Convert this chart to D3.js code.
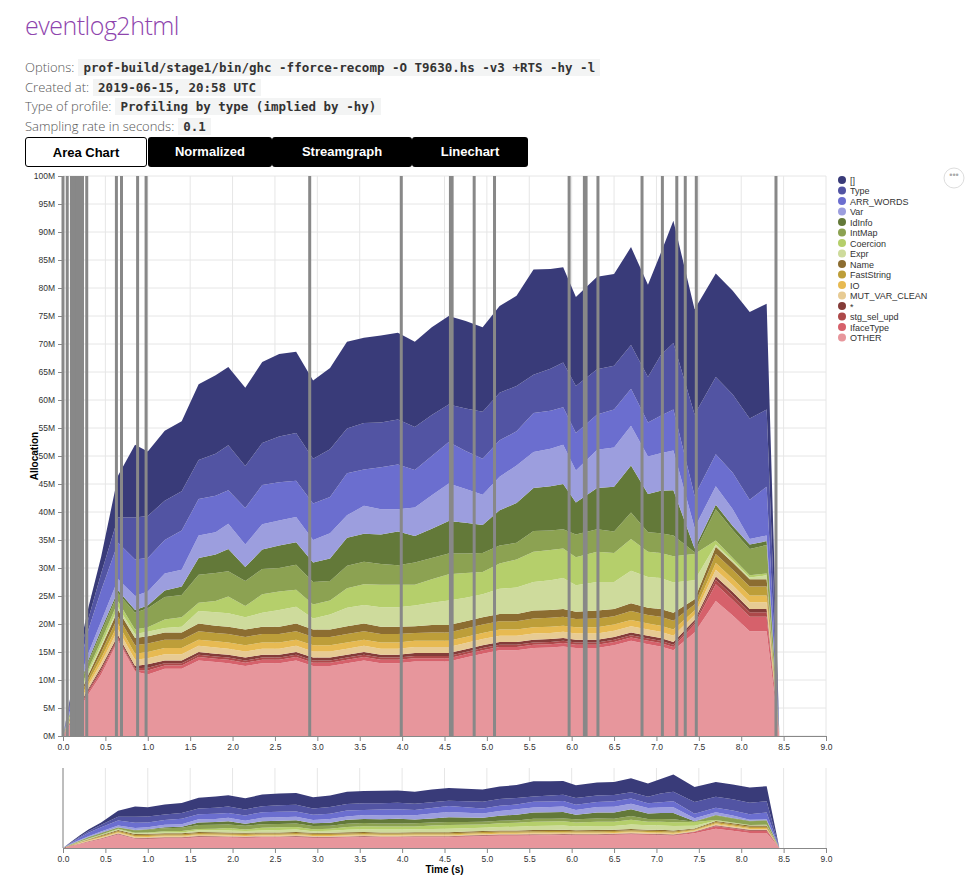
<!DOCTYPE html>
<html><head><meta charset="utf-8">
<script src="https://cdn.jsdelivr.net/npm/d3@7"></script>
<style>
body{margin:0;font-family:"Helvetica Neue",Helvetica,Arial,sans-serif;background:#fff;}
#title{position:absolute;left:25px;top:8px;font-size:25px;font-weight:300;color:#8e44ad;font-family:"Open Sans",sans-serif;letter-spacing:-0.5px}
.info{position:absolute;left:25px;font-size:13px;color:#555;font-weight:300;font-family:"Open Sans",sans-serif}
.info code{font-family:"DejaVu Sans Mono",monospace;font-size:12.5px;background:#f3f4f4;color:#333;padding:1px 5px;margin-left:4px;font-weight:bold}
.btn{position:absolute;top:137px;height:30px;box-sizing:border-box;background:#000;color:#fff;font-weight:bold;font-size:13px;text-align:center;line-height:29px;border-radius:3px;font-family:"Liberation Sans",Arial,sans-serif}
</style></head><body>
<div id="title">eventlog2html</div>
<div class="info" style="top:58px">Options:<code>prof-build/stage1/bin/ghc -fforce-recomp -O T9630.hs -v3 +RTS -hy -l</code></div>
<div class="info" style="top:78px">Created at:<code>2019-06-15, 20:58 UTC</code></div>
<div class="info" style="top:97px">Type of profile:<code>Profiling by type (implied by -hy)</code></div>
<div class="info" style="top:117px">Sampling rate in seconds:<code>0.1</code></div>
<div class="btn" style="left:25px;width:122px;background:#fff;color:#000;border:1px solid #000">Area Chart</div>
<div class="btn" style="left:148px;width:124px">Normalized</div>
<div class="btn" style="left:272px;width:140px">Streamgraph</div>
<div class="btn" style="left:412px;width:116px">Linechart</div>
<svg id="chart" width="973" height="884" style="position:absolute;left:0;top:0"></svg>
<script>
const times=[0,0.1,0.2,0.3,0.45,0.65,0.85,1.0,1.2,1.4,1.6,1.8,1.95,2.15,2.35,2.55,2.75,2.95,3.15,3.35,3.55,3.75,3.95,4.15,4.35,4.55,4.75,4.95,5.15,5.35,5.55,5.75,5.9,6.05,6.3,6.5,6.7,6.9,7.05,7.2,7.45,7.7,7.9,8.1,8.3,8.45];
// values in millions, bottom layer first
const OTHER=[0,2.5,5,7.5,11,17,11.5,11,12,12,13.5,13.2,13,12.5,13,13,13.5,12.5,12.5,13,13.5,13,13,13.3,13.3,13.3,14,14.7,15.3,15.3,15.7,15.8,16,15.7,15.7,16.2,17,16.4,16,15.3,18.5,24.1,21.5,18.7,18.7,0];
const IfaceType=[0,.2,.3,.4,.5,.3,.3,.7,.6,.6,.6,.6,.6,.6,.6,.6,.6,.6,.6,.6,.6,.6,.6,.6,.6,.6,.6,.6,.6,.6,.6,.6,.6,.6,.6,.6,.6,.6,.6,.6,1.4,3.0,2.8,2.6,2.6,0];
const stg_sel_upd=[0,.15,.2,.3,.4,.3,.3,.5,.4,.4,.4,.4,.4,.4,.4,.4,.4,.4,.4,.4,.4,.4,.4,.4,.4,.4,.4,.4,.4,.4,.4,.4,.4,.4,.4,.4,.4,.4,.4,.4,.4,.8,.8,.8,.8,0];
const STAR=[0,.15,.2,.3,.4,.4,.4,.6,.5,.5,.5,.5,.5,.5,.5,.5,.5,.5,.5,.5,.5,.5,.5,.5,.5,.5,.5,.5,.5,.5,.5,.5,.5,.5,.5,.5,.5,.5,.5,.5,.4,.6,.6,.6,.6,0];
const MUT_VAR_CLEAN=[0,.25,.45,.6,.8,1,1.1,1.1,1.1,1.1,1.1,1.1,1.1,1.1,1.1,1.1,1.1,1.1,1.1,1.1,1.1,1.1,1.1,1.1,1.1,1.1,1.1,1.1,1.1,1.1,1.1,1.1,1.1,1.1,1.1,1.1,1.1,1.1,1.1,1.1,.9,1.2,1.2,1.2,1.2,0];
const IO=[0,.2,.4,.6,.8,1,1.1,1.1,1.1,1.1,1.1,1.1,1.1,1.1,1.1,1.1,1.1,1.1,1.1,1.1,1.1,1.1,1.1,1.1,1.1,1.1,1.1,1.1,1.1,1.1,1.1,1.1,1.1,1.1,1.1,1.1,1.1,1.1,1.1,1.1,.8,1.2,1.2,1.2,1.2,0];
const FastString=[0,.3,.5,.7,1,1.3,1.5,1.5,1.5,1.5,1.5,1.5,1.5,1.5,1.5,1.5,1.5,1.5,1.5,1.5,1.5,1.5,1.5,1.4,1.5,1.5,1.5,1.5,1.5,1.5,1.6,1.6,1.6,1.5,1.6,1.5,1.6,1.5,1.6,1.6,1.1,1.6,1.6,1.6,1.6,0];
const Name=[0,.25,.45,.6,.9,1.2,1.3,1.3,1.3,1.3,1.4,1.3,1.3,1.3,1.3,1.3,1.4,1.3,1.3,1.4,1.4,1.3,1.3,1.2,1.3,1.3,1.3,1.3,1.3,1.3,1.4,1.4,1.4,1.3,1.4,1.3,1.4,1.3,1.4,1.4,.9,1.3,1.3,1.3,1.3,0];
const Expr=[0,.2,.3,.5,.5,.5,.7,.8,.8,1,2.2,2.4,2.4,2.2,2.5,3,3,2,2.7,3.3,3.3,3.5,3.5,3.7,4,4.4,4.2,4.1,4.5,4.7,5.1,5.3,5.5,4.7,5.1,4.8,5.8,5.5,5.5,5.4,3.4,.4,.3,.3,.7,0];
const Coercion=[0,.2,.4,.5,.7,1,.8,.8,1.5,1.7,1.5,2,3,2,3.3,3.3,3,2.5,2.5,3.5,3.7,4,4,3.7,4.2,4.7,4.4,4,4.5,5,5.4,5.4,5.3,5,5.4,5.2,5.7,4.5,4.5,4.7,4.7,.7,.5,.4,.3,0];
const IntMap=[0,.4,.8,1.2,1.5,1.5,3,3.4,4,4,5,5,4.5,4.5,4.5,4.2,4.5,4,3.5,4,4,3.7,3.5,4,3.8,3.7,3.5,3.4,3.2,3,3.7,3.5,3.4,4.1,4,3.8,4.7,3.5,3.5,3.7,.3,5.6,5,4.7,5.1,0];
const IdInfo=[0,.2,.3,.4,.5,.5,.5,.5,1.2,1.5,3,3.3,4,2.5,3.5,4,4,3.5,4,5,5,5.3,6,4.7,5.2,5.8,5.5,5,6.3,7.1,7.7,7.9,8.1,5.7,7.4,8,8.4,6.8,7.6,8.1,.7,.8,.7,.8,.7,0];
const Var=[0,.5,1,1.2,1.5,2,2.5,2.5,3,3,4,4,4.5,4,4.5,4.5,4.5,4,4.5,4,5,4.5,4,5.1,6,6.7,6,5.4,6,6.7,6.4,6.7,7,5.7,6.8,7,7.1,6.7,6.7,7.1,3.7,3.3,3,1,1,0];
const ARR_WORDS=[0,1,2.7,4.2,5.5,6.5,6.5,6,6,7,6.5,6.5,6,6.5,7,6.8,6.5,6.5,6.5,7.5,6.5,7.5,8,6.7,7,7.4,6.8,6.4,6.5,6.1,7,6.8,6.7,6.7,6.3,6.8,6.6,6.1,6.7,7.3,5.7,5.7,6.5,7,8.7,0];
const Type=[0,.7,1.5,2,3,4.5,7.5,7.5,7,7,7,7.5,8,7.5,7.5,8.2,8.5,8,8.5,8,8.3,8,8,7.7,7.3,6.7,7.6,8.4,8.5,8.1,6.8,7.5,8,8.4,8.1,7.8,7.8,8.1,10.8,11.9,14.5,13.8,14,14.5,13.8,0];
const LIST=[0,.8,1.5,2,3,7.5,13,11.5,12.5,12.5,13.5,14,14,14,14.5,14.7,14.5,14,14.5,15.5,15.2,15.5,15.5,15.2,15.7,15.8,15.6,15.1,15.5,16.1,18.8,17.8,17,15.9,16.5,16.4,17.5,16.5,18.2,21.8,18.8,18.5,18.5,19,18.9,0];
const gcTimes=[0.0,0.05,0.1,0.12,0.14,0.17,0.19,0.21,0.23,0.28,0.63,0.69,0.88,0.98,2.91,3.99,4.57,4.59,4.85,5.09,5.97,6.15,6.17,6.31,6.83,7.07,7.24,7.34,7.47,8.41];
const yTicks=d3.range(0,101,5);
const xTicks=d3.range(0,9.01,0.5);

const series=[["OTHER",OTHER],["IfaceType",IfaceType],["stg_sel_upd",stg_sel_upd],["*",STAR],["MUT_VAR_CLEAN",MUT_VAR_CLEAN],["IO",IO],["FastString",FastString],["Name",Name],["Expr",Expr],["Coercion",Coercion],["IntMap",IntMap],["IdInfo",IdInfo],["Var",Var],["ARR_WORDS",ARR_WORDS],["Type",Type],["[]",LIST]];
const colors={"[]":"#393b79","Type":"#5254a3","ARR_WORDS":"#6b6ecf","Var":"#9c9ede","IdInfo":"#637939","IntMap":"#8ca252","Coercion":"#b5cf6b","Expr":"#cedb9c","Name":"#8c6d31","FastString":"#bd9e39","IO":"#e7ba52","MUT_VAR_CLEAN":"#e7cb94","*":"#843c39","stg_sel_upd":"#ad494a","IfaceType":"#d6616b","OTHER":"#e7969c"};
const keys=series.map(s=>s[0]);
const table=times.map((t,i)=>{const r={t};series.forEach(([k,v])=>r[k]=v[i]||0);return r;});
const stacked=d3.stack().keys(keys)(table);

const svg=d3.select("#chart");
const L=63,R=826;
const x=d3.scaleLinear().domain([0,9]).range([L,R]);
const y=d3.scaleLinear().domain([0,100]).range([736,176]);
const y2=d3.scaleLinear().domain([0,100]).range([848,768]);

function drawChart(yS,top,bottom,withYAxis){
  const g=svg.append("g");
  g.append("g").selectAll("line").data(xTicks).join("line").attr("x1",d=>x(d)).attr("x2",d=>x(d)).attr("y1",top).attr("y2",bottom).attr("stroke","#e6e6e6");
  if(withYAxis) g.append("g").selectAll("line").data(yTicks).join("line").attr("x1",L).attr("x2",R).attr("y1",d=>yS(d)).attr("y2",d=>yS(d)).attr("stroke","#e6e6e6");
  const area=d3.area().x(d=>x(d.data.t)).y0(d=>yS(d[0])).y1(d=>yS(d[1]));
  g.append("g").selectAll("path").data(stacked).join("path").attr("d",area).attr("fill",d=>colors[d.key]);
  const xa=g.append("g").attr("transform",`translate(0,${bottom})`).call(d3.axisBottom(x).tickValues(xTicks).tickFormat(d3.format(".1f")).tickSize(5));
  xa.selectAll("text").attr("font-size",8.5).attr("fill","#333").attr("font-family","Liberation Sans, Arial");
  xa.selectAll("line,path").attr("stroke","#888");
  return g;
}
const main=drawChart(y,176,736,true);
main.append("g").selectAll("line").data(gcTimes).join("line").attr("x1",d=>x(d)).attr("x2",d=>x(d)).attr("y1",176).attr("y2",736).attr("stroke","#888").attr("stroke-width",3);
const ya=main.append("g").attr("transform",`translate(${L},0)`).call(d3.axisLeft(y).tickValues(yTicks).tickFormat(d=>d+"M").tickSize(5));
ya.selectAll("text").attr("font-size",8.5).attr("fill","#333").attr("font-family","Liberation Sans, Arial");
ya.selectAll("line,path").attr("stroke","#888");
svg.append("text").attr("transform","translate(38,456) rotate(-90)").attr("text-anchor","middle").attr("font-size",10).attr("font-weight","bold").attr("font-family","Liberation Sans, Arial").text("Allocation");

const brush=drawChart(y2,768,848,false);
svg.append("line").attr("x1",L).attr("x2",L).attr("y1",768).attr("y2",848).attr("stroke","#888");
svg.append("text").attr("x",(L+R)/2).attr("y",873).attr("text-anchor","middle").attr("font-size",10).attr("font-weight","bold").attr("font-family","Liberation Sans, Arial").text("Time (s)");

// legend
const leg=svg.append("g").attr("transform","translate(842,180)");
const legKeys=keys.slice().reverse();
const li=leg.selectAll("g").data(legKeys).join("g").attr("transform",(d,i)=>`translate(0,${i*10.5})`);
li.append("circle").attr("r",4).attr("fill",d=>colors[d]);
li.append("text").attr("x",8).attr("y",3.5).attr("font-size",9).attr("fill","#333").attr("font-family","Liberation Sans, Arial").text(d=>d);
svg.append("circle").attr("cx",954).attr("cy",178).attr("r",10).attr("fill","#fff").attr("stroke","#ddd");
svg.append("text").attr("x",954).attr("y",178).attr("text-anchor","middle").attr("font-size",9).attr("fill","#aaa").text("•••");
</script></body></html>
